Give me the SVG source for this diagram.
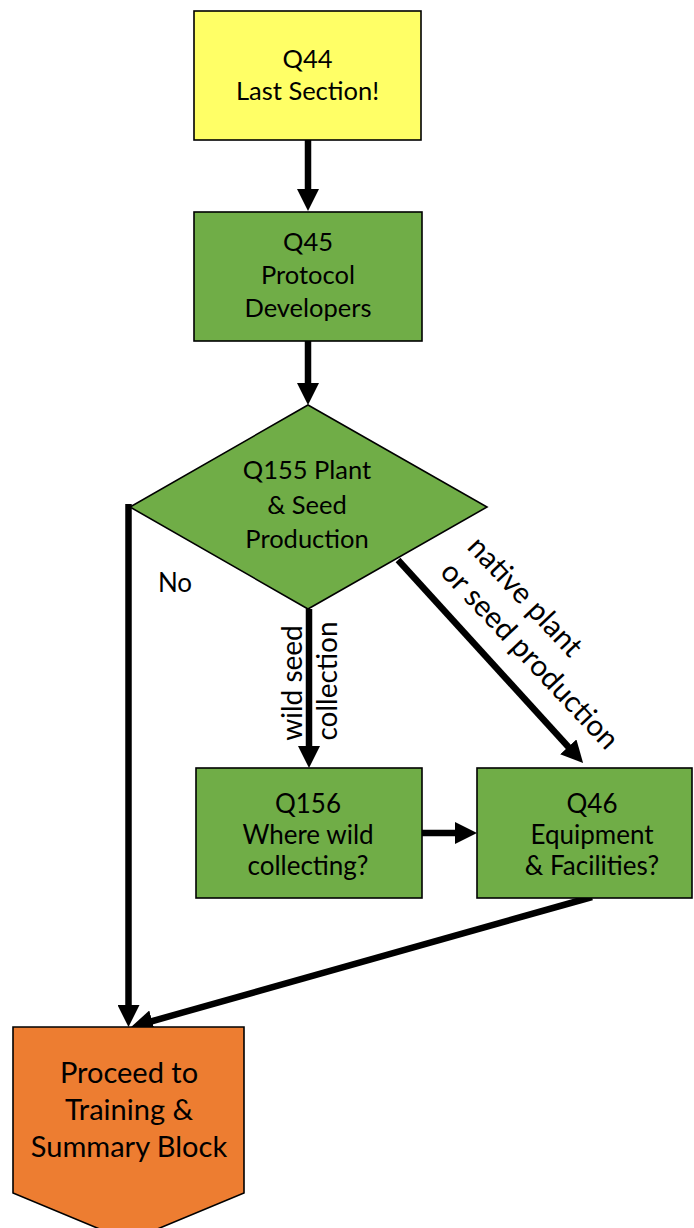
<svg xmlns="http://www.w3.org/2000/svg" width="694" height="1228" viewBox="0 0 694 1228">
  <style>
    .box { stroke: #000; stroke-width: 1.6; }
    .yellow { fill: #FFFF66; }
    .green { fill: #70AD47; }
    .orange { fill: #ED7D31; }
    .lbl { font-family: Lato, "Open Sans", "Liberation Sans", sans-serif; fill: #000; text-anchor: middle; }
    .conn { stroke: #000; stroke-width: 6.5; fill: none; marker-end: url(#head); }
  </style>
  <defs>
    <marker id="head" markerUnits="userSpaceOnUse" viewBox="0 0 22 22" markerWidth="22" markerHeight="22" refX="7" refY="11" orient="auto">
      <path d="M0,0 L22,11 L0,22 z" fill="#000"/>
    </marker>
  </defs>

  <!-- connectors -->
  <g id="connectors">
    <line class="conn" x1="308" y1="140" x2="308" y2="196"/>
    <line class="conn" x1="308" y1="341" x2="308" y2="390"/>
    <polyline class="conn" points="128.5,504 128.5,1012"/>
    <line class="conn" x1="309" y1="609" x2="309" y2="753"/>
    <line class="conn" x1="398" y1="560" x2="573" y2="752"/>
    <line class="conn" x1="422" y1="833" x2="462" y2="833"/>
    <line class="conn" x1="592" y1="897" x2="145.5" y2="1023"/>
  </g>

  <!-- edge labels -->
  <g id="edge-labels" class="lbl" font-size="28">
    <text x="175" y="592" font-size="26">No</text>
    <text transform="translate(302,683) rotate(-90)">wild seed</text>
    <text transform="translate(337,681) rotate(-90)">collection</text>
    <g transform="translate(466,548) rotate(46.8)" font-size="29.5">
      <text x="0" y="0" style="text-anchor:start">native plant</text>
      <text x="0" y="37" style="text-anchor:start">or seed production</text>
    </g>
  </g>

  <g id="q44">
    <rect class="box yellow" x="194" y="11" width="227" height="129"/>
    <text class="lbl" font-size="25.5"><tspan x="307.5" y="68">Q44</tspan><tspan x="307.5" y="100">Last Section!</tspan></text>
  </g>

  <g id="q45">
    <rect class="box green" x="194" y="212" width="228" height="129"/>
    <text class="lbl" font-size="25.5"><tspan x="308" y="251">Q45</tspan><tspan x="308" y="284">Protocol</tspan><tspan x="308" y="317">Developers</tspan></text>
  </g>

  <g id="q155">
    <polygon class="box green" points="308,405 487,507 308,609 130,507"/>
    <text class="lbl" font-size="25.5"><tspan x="307" y="479">Q155 Plant</tspan><tspan x="307" y="514">&amp; Seed</tspan><tspan x="307" y="548">Production</tspan></text>
  </g>

  <g id="q156">
    <rect class="box green" x="196" y="768" width="226" height="130"/>
    <text class="lbl" font-size="26"><tspan x="308" y="813">Q156</tspan><tspan x="308" y="844">Where wild</tspan><tspan x="308" y="875">collecting?</tspan></text>
  </g>

  <g id="q46">
    <rect class="box green" x="477" y="768" width="215" height="130"/>
    <text class="lbl" font-size="26"><tspan x="592" y="813">Q46</tspan><tspan x="592" y="844">Equipment</tspan><tspan x="592" y="875">&amp; Facilities?</tspan></text>
  </g>

  <g id="summary">
    <polygon class="box orange" points="13,1027 244,1027 244,1193 128.5,1241 13,1193"/>
    <text class="lbl" font-size="29"><tspan x="129" y="1083">Proceed to</tspan><tspan x="129" y="1120">Training &amp;</tspan><tspan x="129" y="1157">Summary Block</tspan></text>
  </g>
</svg>
